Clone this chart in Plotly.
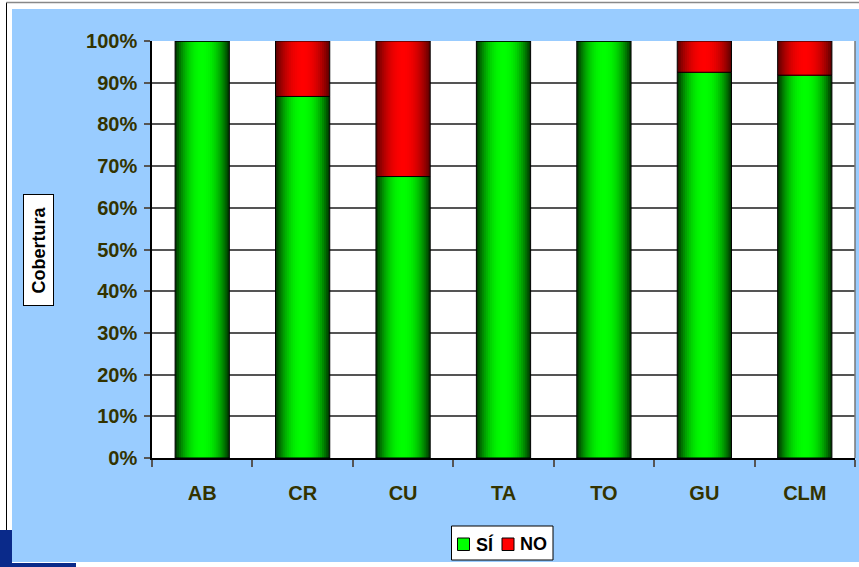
import plotly.graph_objects as go

# data (percent)
categories = ["AB", "CR", "CU", "TA", "TO", "GU", "CLM"]
si_values = [100, 86.7, 67.5, 100, 100, 92.5, 91.8]
no_values = [0, 13.3, 32.5, 0, 0, 7.5, 8.2]
series_names = ["SÍ", "NO"]
y_ticks = [0, 10, 20, 30, 40, 50, 60, 70, 80, 90, 100]
y_tick_labels = ["0%", "10%", "20%", "30%", "40%", "50%", "60%", "70%", "80%", "90%", "100%"]

# pixel layout of the page
W, H = 859, 567
L, R, T, B = 152, 4, 41, 109
PW, PH = W - L - R, H - T - B

FONT = "Liberation Sans, Arial, sans-serif"
TXT = "#333300"
BAR_W = 0.54
N_LAYERS = 14


def px_x(px):
    return (px - L) / PW


def px_y(py):
    return (H - B - py) / PH


def mix(c1, c2, t):
    return "rgb(%d,%d,%d)" % tuple(round(a * (1 - t) + b * t) for a, b in zip(c1, c2))


def paper_rect(x0, y0, x1, y1, fill, line_color=None, line_width=0):
    return dict(type="rect", xref="paper", yref="paper",
                x0=px_x(x0), x1=px_x(x1), y0=px_y(y1), y1=px_y(y0),
                fillcolor=fill, line=dict(color=line_color or fill, width=line_width))


fig = go.Figure()


# cylinder-like shading: stack of narrower and brighter bars on top of each other
def shaded_bars(name, y, base, bright, dark):
    for k in range(N_LAYERS):
        frac = 1 - k / N_LAYERS
        t = frac ** 2.2
        fig.add_trace(
            go.Bar(
                x=categories,
                y=y,
                base=base,
                width=BAR_W * frac,
                name=name,
                marker=dict(color=mix(bright, dark, t), line=dict(width=0)),
                showlegend=False,
                hoverinfo="skip",
            )
        )
    # outline on top
    fig.add_trace(
        go.Bar(
            x=categories,
            y=y,
            base=base,
            width=BAR_W,
            name=name,
            marker=dict(color="rgba(0,0,0,0)", line=dict(color="black", width=1)),
            showlegend=False,
        )
    )


shaded_bars(series_names[0], si_values, None, (0, 255, 0), (0, 60, 0))
shaded_bars(series_names[1], no_values, si_values, (255, 0, 0), (100, 0, 0))

shapes = [
    # white frame round the blue panel
    paper_rect(0, 0, 12, H, "white"),
    paper_rect(0, 0, W, 9, "white"),
    paper_rect(0, 562, W, H, "white"),
    dict(type="line", xref="paper", yref="paper", x0=px_x(6.5), x1=px_x(6.5),
         y0=px_y(530), y1=px_y(2.5), line=dict(color="black", width=1)),
    dict(type="line", xref="paper", yref="paper", x0=px_x(6.5), x1=px_x(W),
         y0=px_y(2.5), y1=px_y(2.5), line=dict(color="#888888", width=1.5)),
    # navy logo corner
    paper_rect(0, 530, 12, H, "#0a2a8a"),
    paper_rect(12, 563, 76, H, "#0a2a8a"),
    # right border of plot area
    dict(type="line", xref="paper", yref="paper", x0=1, x1=1, y0=0, y1=1,
         line=dict(color="#777777", width=1.5)),
    # legend box and swatches
    paper_rect(451.5, 526, 553, 560, "white", "black", 1),
    paper_rect(457.5, 538, 469.5, 550.5, "#00ff00", "black", 1),
    paper_rect(502, 538, 514, 550.5, "#ff0000", "black", 1),
]

legend_text = [
    dict(text=series_names[0], x=px_x(474), y=px_y(544)),
    dict(text=series_names[1], x=px_x(518), y=px_y(544)),
]

annotations = [
    dict(
        text="Cobertura",
        textangle=-90,
        xref="paper",
        yref="paper",
        x=px_x(38),
        y=px_y(250),
        xanchor="center",
        yanchor="middle",
        showarrow=False,
        font=dict(family=FONT, size=18, color="black", weight="bold"),
        bgcolor="white",
        bordercolor="black",
        borderwidth=1,
        borderpad=2,
        width=106,
        height=25,
    )
]
for item in legend_text:
    annotations.append(
        dict(item, xref="paper", yref="paper", xanchor="left", yanchor="middle",
             showarrow=False,
             font=dict(family=FONT, size=18, color="black", weight="bold"))
    )

fig.update_layout(
    width=W,
    height=H,
    margin=dict(l=L, r=R, t=T, b=B, pad=0),
    paper_bgcolor="#99ccff",
    plot_bgcolor="white",
    barmode="overlay",
    font=dict(family=FONT, color=TXT, size=20, weight="bold"),
    shapes=shapes,
    showlegend=False,
    annotations=annotations,
)

fig.update_xaxes(
    type="category",
    ticks="outside",
    tickson="boundaries",
    ticklen=7,
    tickcolor="#555555",
    tickwidth=1.5,
    showline=True,
    linecolor="black",
    linewidth=1.5,
    showgrid=False,
    ticklabelstandoff=16,
    tickfont=dict(family=FONT, size=20, color=TXT, weight="bold"),
)

fig.update_yaxes(
    range=[0, 100],
    tickvals=y_ticks,
    ticktext=y_tick_labels,
    ticks="outside",
    ticklen=6,
    tickcolor="#555555",
    tickwidth=1.5,
    showline=True,
    linecolor="black",
    linewidth=1.5,
    showgrid=True,
    gridcolor="#555555",
    gridwidth=1.5,
    zeroline=False,
    ticklabelstandoff=3,
    tickfont=dict(family=FONT, size=20, color=TXT, weight="bold"),
)

# the page's default body margin would shift the figure by 8px
fig.write_html(
    "out.html",
    config={"displayModeBar": False},
    post_script="document.body.style.margin='0';",
)
